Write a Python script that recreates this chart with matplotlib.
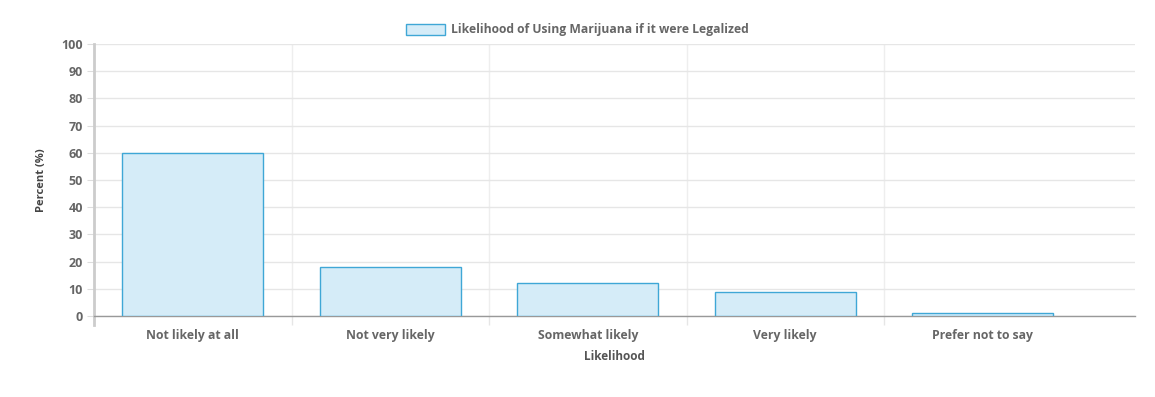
import matplotlib
matplotlib.use("Agg")
import matplotlib.pyplot as plt
import numpy as np

plt.rcParams['font.family'] = ['Open Sans', 'DejaVu Sans']

# データ
categories = ["Not likely at all", "Not very likely", "Somewhat likely", "Very likely", "Prefer not to say"]
percent = [60, 18, 12, 9, 1]
series_name = "Likelihood of Using Marijuana if it were Legalized"
y_ticks = list(range(0, 101, 10))

text_color = "#666666"
fill_color = "#d5ecf8"
edge_color = "#3fa7d6"

fig = plt.figure(figsize=(11.55, 3.97), dpi=100)
ax = fig.add_axes([94 / 1155, 81 / 397, 1041 / 1155, 272 / 397])

x = np.arange(len(categories))
bars = ax.bar(x, percent, width=0.714, color=fill_color, edgecolor=edge_color,
              linewidth=1.0, label=series_name, zorder=3)

ax.set_xlim(-0.5, -0.5 + 1041 / 197.5)
ax.set_ylim(0, 100)

# 軸・グリッド
ax.set_yticks(y_ticks)
ax.set_yticklabels([str(v) for v in y_ticks], fontsize=9, fontweight="bold", color=text_color)
ax.tick_params(axis="y", length=5, color="#dddddd", pad=3)
ax.grid(axis="y", color="#e6e6e6", linewidth=1.0, zorder=0)

ax.set_xticks(x)
ax.set_xticklabels(categories, fontsize=8.8, fontweight="bold", color=text_color)
ax.tick_params(axis="x", which="major", length=0, pad=9)
ax.set_xticks(np.arange(-0.5, len(categories) - 0.5, 1.0), minor=True)
ax.tick_params(axis="x", which="minor", length=6.5, color="#e6e6e6", width=1.0)
ax.grid(axis="x", which="minor", color="#eeeeee", linewidth=1.0, zorder=0)

for s in ["top", "right"]:
    ax.spines[s].set_visible(False)
ax.spines["left"].set_color("#cccccc")
ax.spines["left"].set_linewidth(2)
ax.spines["left"].set_bounds(-3.3, 100)
ax.spines["bottom"].set_color("#999999")
ax.spines["bottom"].set_linewidth(1)

ax.set_ylabel("Percent (%)", fontsize=8, fontweight="bold", color="#444444", labelpad=10)
ax.set_xlabel("Likelihood", fontsize=8.5, fontweight="bold", color="#555555", labelpad=6)

# 凡例はキャンバス中央に配置
leg = fig.legend(handles=[bars], labels=[series_name], loc="center",
                 bbox_to_anchor=(0.5, 1 - 30 / 397), frameon=False,
                 handlelength=3.2, handleheight=1.05, handletextpad=0.55,
                 prop={"size": 8.7, "weight": "bold"}, borderaxespad=0)
for t in leg.get_texts():
    t.set_color(text_color)

fig.savefig("out.png", dpi=100)
